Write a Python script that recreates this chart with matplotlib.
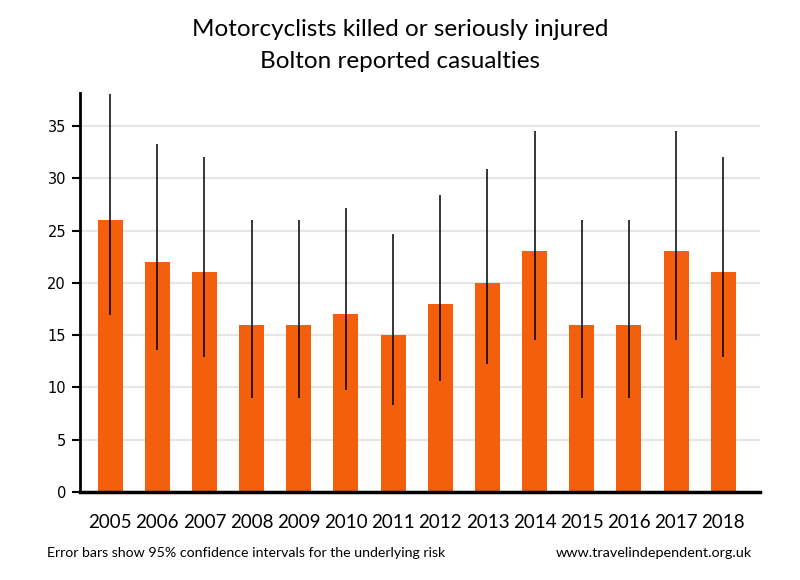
import matplotlib
matplotlib.use("Agg")
import matplotlib.pyplot as plt
import numpy as np

years = ["2005", "2006", "2007", "2008", "2009", "2010", "2011", "2012", "2013", "2014", "2015", "2016", "2017", "2018"]
casualties = [26, 22, 21, 16, 16, 17, 15, 18, 20, 23, 16, 16, 23, 21]
ci_low = [16.9, 13.6, 12.9, 9.0, 9.0, 9.8, 8.3, 10.6, 12.2, 14.5, 9.0, 9.0, 14.5, 12.9]
ci_high = [38.1, 33.3, 32.0, 26.0, 26.0, 27.2, 24.7, 28.4, 30.9, 34.5, 26.0, 26.0, 34.5, 32.0]
yticks = [0, 5, 10, 15, 20, 25, 30, 35]

fig = plt.figure(figsize=(8, 5.8), dpi=100)
ax = fig.add_axes([80/800, 1 - 492/580, 680/800, (492 - 93)/580])

x = np.arange(len(years))
ax.bar(x, casualties, width=0.53, color="#F45F0E", zorder=2)
vals = np.array(casualties)
yerr = np.vstack([vals - np.array(ci_low), np.array(ci_high) - vals])
ax.errorbar(x, vals, yerr=yerr, fmt="none", ecolor="black", elinewidth=1.1, capsize=0, zorder=3)

ax.set_xlim(-0.64, 13.78)
ax.set_ylim(0, 38.15)
ax.set_yticks(yticks)
ax.set_yticklabels([str(t) for t in yticks], fontsize=10.5, family="DejaVu Sans")
ax.set_xticks(x)
ax.set_xticklabels(years, fontsize=13.5, family="Lato")
ax.tick_params(axis="x", length=0, pad=16)
ax.tick_params(axis="y", length=6, width=1.5, direction="out", pad=4)
ax.yaxis.grid(True, color="#E6E6E6", linewidth=1.5, zorder=0)
ax.set_axisbelow(True)
for s in ["top", "right"]:
    ax.spines[s].set_visible(False)
ax.spines["left"].set_linewidth(2)
ax.spines["bottom"].set_linewidth(2.5)

fig.text(0.5, 1 - 30/580, "Motorcyclists killed or seriously injured", ha="center", va="center", fontsize=17.5, family="Lato")
fig.text(0.5, 1 - 62/580, "Bolton reported casualties", ha="center", va="center", fontsize=17.5, family="Lato")
fig.text(47/800, 1 - 553/580, "Error bars show 95% confidence intervals for the underlying risk", ha="left", va="center", fontsize=10.2, family="Lato")
fig.text(752/800, 1 - 553/580, "www.travelindependent.org.uk", ha="right", va="center", fontsize=10.4, family="Lato")

fig.savefig("out.png", dpi=100)
